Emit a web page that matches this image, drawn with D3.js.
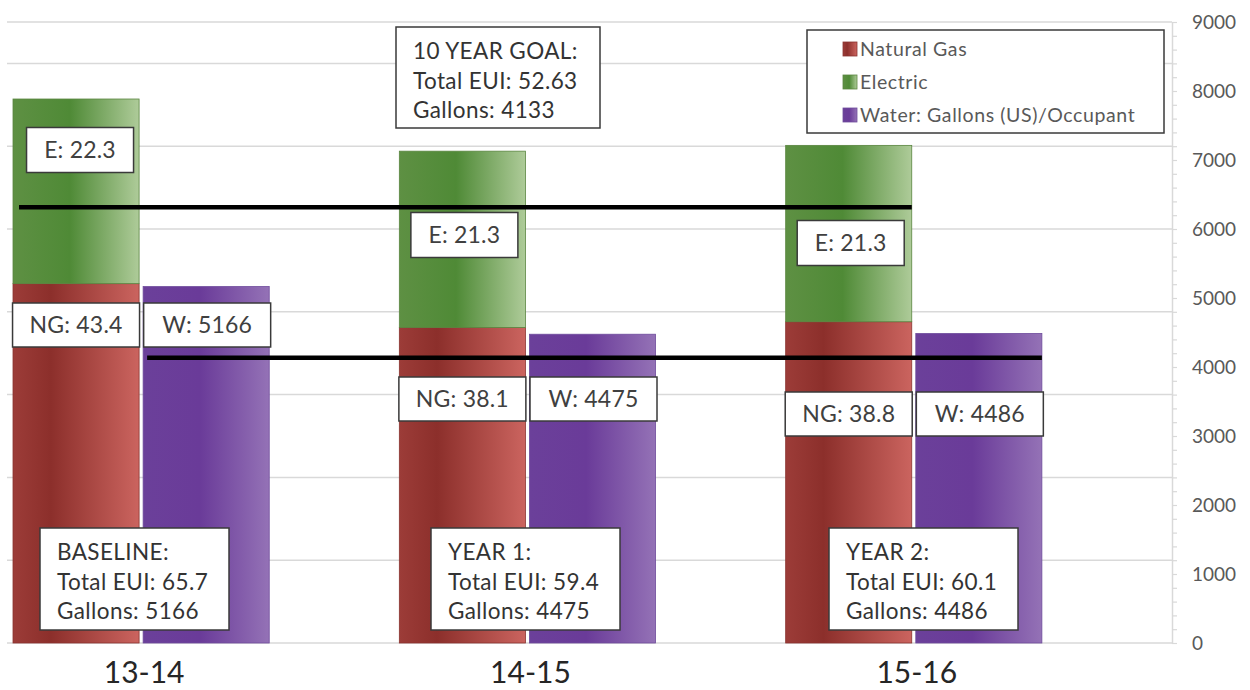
<!DOCTYPE html>
<html>
<head>
<meta charset="utf-8">
<script src="https://cdn.jsdelivr.net/npm/d3@7"></script>
<style>
  body { margin: 0; background: #ffffff; }
  svg { display: block; font-family: Lato, "Open Sans", "Liberation Sans", sans-serif; }
</style>
</head>
<body>
<svg id="chart" width="1250" height="690"></svg>
<script>
// ---- data ----
const years = ["13-14", "14-15", "15-16"];
const yearTitles = ["BASELINE:", "YEAR 1:", "YEAR 2:"];
const naturalGas = [43.4, 38.1, 38.8];          // EUI
const electric = [22.3, 21.3, 21.3];            // EUI
const water = [5166, 4475, 4486];               // gallons (US) per occupant
const goalEUI = 52.63;
const goalGallons = 4133;
const euiGridTicks = [0, 10, 20, 30, 40, 50, 60, 70];
const gallonTicks = [0, 1000, 2000, 3000, 4000, 5000, 6000, 7000, 8000, 9000];
const legendLabels = ["Natural Gas", "Electric", "Water: Gallons (US)/Occupant"];

// ---- layout ----
const plot = { left: 13, right: 1172, top: 22, bottom: 643 };
const svg = d3.select("#chart");

const x0 = d3.scaleBand().domain(years).range([plot.left, plot.right]).padding(0);
const x1 = d3.scaleBand().domain(["energy", "water", "spacer"])
  .range([0, x0.bandwidth()]).paddingInner(0.031).paddingOuter(0);
const yEUI = d3.scaleLinear().domain([0, 75]).range([plot.bottom, plot.top]);
const yGal = d3.scaleLinear().domain([0, 9000]).range([plot.bottom, plot.top]);
const bw = x1.bandwidth();

// ---- gradients ----
const defs = svg.append("defs");
function grad(id, stops) {
  const g = defs.append("linearGradient").attr("id", id)
    .attr("x1", "0%").attr("x2", "100%").attr("y1", "0%").attr("y2", "0%");
  stops.forEach(([o, c]) => g.append("stop").attr("offset", o).attr("stop-color", c));
}
grad("gNG", [["0%", "#9c3c38"], ["30%", "#8c2f2b"], ["100%", "#cb645f"]]);
grad("gE", [["0%", "#5e9043"], ["45%", "#4f8a36"], ["100%", "#aecb99"]]);
grad("gW", [["0%", "#6b409a"], ["45%", "#6a3b99"], ["100%", "#9472b6"]]);
const fills = ["url(#gNG)", "url(#gE)", "url(#gW)"];
const strokes = ["#8a3430", "#5a8640", "#6e4b9c"];

// ---- gridlines (EUI scale) ----
const grid = svg.append("g");
euiGridTicks.concat([75]).forEach(t => {
  grid.append("line")
    .attr("x1", 7).attr("x2", plot.right)
    .attr("y1", yEUI(t)).attr("y2", yEUI(t))
    .attr("stroke", "#d9d9d9").attr("stroke-width", 1.5);
});

// ---- right axis (gallons) ----
const axis = svg.append("g")
  .attr("transform", `translate(${plot.right},0)`)
  .call(d3.axisRight(yGal)
    .tickValues(d3.range(0, 9001, 200))
    .tickFormat(d => gallonTicks.includes(d) ? d : "")
    .tickSize(5).tickSizeOuter(0).tickPadding(15));
axis.select(".domain").attr("stroke", "#d9d9d9").attr("stroke-width", 1.5);
axis.selectAll(".tick line").attr("stroke", "#d9d9d9").attr("stroke-width", 1.2);
axis.selectAll(".tick text")
  .attr("fill", "#595959").style("font-size", "19px")
  .style("font-family", "Lato, 'Open Sans', sans-serif");

// ---- bars ----
const bars = svg.append("g");
years.forEach((yr, i) => {
  const xe = x0(yr) + x1("energy");
  const xw = x0(yr) + x1("water");
  bars.append("rect").attr("x", xe).attr("width", bw)
    .attr("y", yEUI(naturalGas[i])).attr("height", yEUI(0) - yEUI(naturalGas[i]))
    .attr("fill", fills[0]).attr("stroke", strokes[0]).attr("stroke-width", 0.8);
  bars.append("rect").attr("x", xe).attr("width", bw)
    .attr("y", yEUI(naturalGas[i] + electric[i]))
    .attr("height", yEUI(naturalGas[i]) - yEUI(naturalGas[i] + electric[i]))
    .attr("fill", fills[1]).attr("stroke", strokes[1]).attr("stroke-width", 0.8);
  bars.append("rect").attr("x", xw).attr("width", bw)
    .attr("y", yGal(water[i])).attr("height", yGal(0) - yGal(water[i]))
    .attr("fill", fills[2]).attr("stroke", strokes[2]).attr("stroke-width", 0.8);
});

// ---- goal lines ----
const lines = svg.append("g").attr("stroke", "#000").attr("stroke-width", 4.5);
lines.append("line")
  .attr("x1", x0(years[0]) + x1("energy") + 6)
  .attr("x2", x0(years[2]) + x1("energy") + bw)
  .attr("y1", yEUI(goalEUI)).attr("y2", yEUI(goalEUI));
lines.append("line")
  .attr("x1", x0(years[0]) + x1("water") + 4)
  .attr("x2", x0(years[2]) + x1("water") + bw)
  .attr("y1", yGal(goalGallons)).attr("y2", yGal(goalGallons));

// ---- boxed labels ----
const boxes = svg.append("g");
function box(x, y, w, h) {
  boxes.append("rect").attr("x", x).attr("y", y).attr("width", w).attr("height", h)
    .attr("fill", "#fff").attr("stroke", "#3a3a3a").attr("stroke-width", 1.5);
}
function centeredLabel(cx, cy, w, h, text) {
  box(cx - w / 2, cy - h / 2, w, h);
  boxes.append("text").attr("x", cx).attr("y", cy + 8)
    .attr("text-anchor", "middle").attr("fill", "#404040")
    .style("font-size", "23px").style("letter-spacing", "0.2px").text(text);
}
function multiLabel(x, y, w, h, linesTxt) {
  box(x, y, w, h);
  const t = boxes.append("text").attr("fill", "#333")
    .style("font-size", "22.5px").style("letter-spacing", "0.4px");
  linesTxt.forEach((s, k) => t.append("tspan").attr("x", x + 17).attr("y", y + 32 + k * 29.5).text(s));
}

// placement of the value boxes relative to their bars (pixels)
const eBoxY = [150, 235, 243];
const eBoxDx = [4, 2, 2];
const lowBoxY = [325, 399, 414];

years.forEach((yr, i) => {
  const ce = x0(yr) + x1("energy") + bw / 2;
  const cw = x0(yr) + x1("water") + bw / 2;
  centeredLabel(ce + eBoxDx[i], eBoxY[i], 107, 45, `E: ${electric[i]}`);
  centeredLabel(ce, lowBoxY[i], 127, 44, `NG: ${naturalGas[i]}`);
  centeredLabel(cw + 1, lowBoxY[i], 127, 44, `W: ${water[i]}`);
});

// summary boxes at the bottom of each year
const sumBoxX = [40, 431, 829];
years.forEach((yr, i) => {
  const total = d3.format(".1f")(naturalGas[i] + electric[i]);
  multiLabel(sumBoxX[i], 528, 189, 102,
    [yearTitles[i], `Total EUI: ${total}`, `Gallons: ${water[i]}`]);
});

// goal box
multiLabel(396, 27, 204, 101, ["10 YEAR GOAL:", `Total EUI: ${goalEUI}`, `Gallons: ${goalGallons}`]);

// ---- legend ----
const lg = svg.append("g");
lg.append("rect").attr("x", 807).attr("y", 30).attr("width", 357).attr("height", 103)
  .attr("fill", "#fff").attr("stroke", "#3a3a3a").attr("stroke-width", 1.5);
legendLabels.forEach((name, k) => {
  const cy = 49 + k * 33;
  lg.append("rect").attr("x", 843).attr("y", cy - 7).attr("width", 14).attr("height", 14)
    .attr("fill", fills[k]).attr("stroke", strokes[k]).attr("stroke-width", 0.8);
  lg.append("text").attr("x", 860).attr("y", cy + 7)
    .attr("fill", "#595959").style("font-size", "19.5px").style("letter-spacing", "0.6px")
    .text(name);
});

// ---- category labels ----
svg.append("g").selectAll("text").data(years).join("text")
  .attr("x", d => x0(d) + x1("water") + 1)
  .attr("y", 683)
  .attr("text-anchor", "middle")
  .attr("fill", "#262626")
  .style("font-size", "30px")
  .text(d => d);
</script>
</body>
</html>
